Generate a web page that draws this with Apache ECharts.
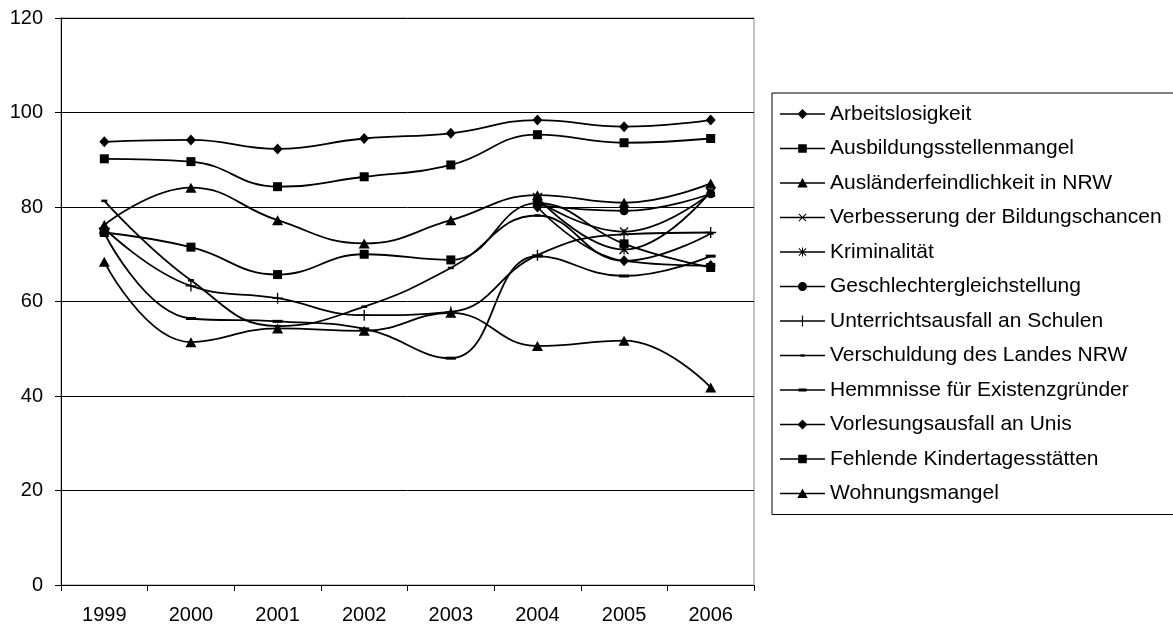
<!DOCTYPE html>
<html>
<head>
<meta charset="utf-8">
<script src="https://cdn.jsdelivr.net/npm/echarts@6/dist/echarts.min.js"></script>
<style>
html,body{margin:0;padding:0;background:#fff;}
#chart{width:1173px;height:626px;}
</style>
</head>
<body>
<div id="chart"></div>
<script>
// ---- data ----
const years = ['1999','2000','2001','2002','2003','2004','2005','2006'];
const yTicks = [0, 20, 40, 60, 80, 100, 120];

const seriesNames = [
  'Arbeitslosigkeit',
  'Ausbildungsstellenmangel',
  'Ausländerfeindlichkeit in NRW',
  'Verbesserung der Bildungschancen',
  'Kriminalität',
  'Geschlechtergleichstellung',
  'Unterrichtsausfall an Schulen',
  'Verschuldung des Landes NRW',
  'Hemmnisse für Existenzgründer',
  'Vorlesungsausfall an Unis',
  'Fehlende Kindertagesstätten',
  'Wohnungsmangel'
];

const arbeitslosigkeit = [93.8, 94.2, 92.3, 94.5, 95.6, 98.4, 97.0, 98.4];
const ausbildungsstellenmangel = [90.2, 89.6, 84.3, 86.4, 88.9, 95.3, 93.6, 94.5];
const auslaenderfeindlichkeit = [76.2, 84.1, 77.2, 72.3, 77.2, 82.5, 80.9, 85.0];
const bildungschancen = [null, null, null, null, null, 81.3, 74.8, 83.0];
const kriminalitaet = [null, null, null, null, null, 82.0, 71.0, 83.3];
const gleichstellung = [null, null, null, null, null, 80.4, 79.2, 82.8];
const unterrichtsausfall = [75.5, 63.3, 60.7, 57.1, 57.8, 69.8, 74.2, 74.6];
const verschuldung = [81.3, 64.5, 54.8, 58.9, 67.1, 78.2, 68.6, 74.4];
const hemmnisse = [74.5, 56.4, 55.8, 54.2, 48.0, 69.6, 65.4, 69.6];
const vorlesungsausfall = [null, null, null, null, null, 80.0, 68.6, 67.6];
const kindertagesstaetten = [74.6, 71.5, 65.7, 70.0, 68.8, 80.8, 72.2, 67.2];
const wohnungsmangel = [68.4, 51.4, 54.3, 53.8, 57.6, 50.6, 51.7, 41.8];

const seriesValues = [
  arbeitslosigkeit, ausbildungsstellenmangel, auslaenderfeindlichkeit,
  bildungschancen, kriminalitaet, gleichstellung, unterrichtsausfall,
  verschuldung, hemmnisse, vorlesungsausfall, kindertagesstaetten, wohnungsmangel
];

// ---- marker styles ----
const P_X = 'path://M0,1L1,0L5,4L9,0L10,1L6,5L10,9L9,10L5,6L1,10L0,9L4,5Z';
const P_AST = 'path://M0,1L1,0L5,4L9,0L10,1L6,5L10,9L9,10L5,6L1,10L0,9L4,5Z M4.4,0H5.6V10H4.4Z';
const P_PLUS = 'path://M4.4,0H5.6V4.4H10V5.6H5.6V10H4.4V5.6H0V4.4H4.4Z';

const markers = [
  {symbol: 'diamond', size: [10, 11]},
  {symbol: 'rect', size: 9},
  {symbol: 'triangle', size: [11, 10]},
  {symbol: P_X, size: 9},
  {symbol: P_AST, size: 10},
  {symbol: 'circle', size: 9},
  {symbol: P_PLUS, size: 11},
  {symbol: 'rect', size: [6, 2.5]},
  {symbol: 'rect', size: [10, 3]},
  {symbol: 'diamond', size: [10, 11]},
  {symbol: 'rect', size: 9},
  {symbol: 'triangle', size: [11, 10]}
];

// legend icons: line + marker in a 45x12 box
const LINE = 'M0,0Z M45,12Z M0,5.25H45V6.75H0Z ';
const X_SHAPE = 'M18.5,2.7L19.2,2L22.5,5.3L25.8,2L26.5,2.7L23.2,6L26.5,9.3L25.8,10L22.5,6.7L19.2,10L18.5,9.3L21.8,6Z';
const legendIcons = [
  LINE + 'M22.5,1L27.5,6L22.5,11L17.5,6Z',
  LINE + 'M18.2,1.7H26.8V10.3H18.2Z',
  LINE + 'M22.5,1L27.7,10.5L17.3,10.5Z',
  LINE + X_SHAPE,
  LINE + X_SHAPE + ' M22,1.5H23V10.5H22Z',
  LINE + 'M27,6A4.5,4.5 0 1 1 18,6A4.5,4.5 0 1 1 27,6Z',
  LINE + 'M21.9,0.5H23.1V11.5H21.9Z',
  LINE + 'M20.5,4.8H24.5V7.2H20.5Z',
  LINE + 'M18.5,4.5H26.5V7.5H18.5Z',
  LINE + 'M22.5,1L27.5,6L22.5,11L17.5,6Z',
  LINE + 'M18.2,1.7H26.8V10.3H18.2Z',
  LINE + 'M22.5,1L27.7,10.5L17.3,10.5Z'
];

const series = seriesNames.map((name, i) => ({
  name: name,
  type: 'line',
  data: seriesValues[i],
  smooth: 0.45,
  connectNulls: false,
  symbol: markers[i].symbol,
  symbolSize: markers[i].size,
  symbolKeepAspect: false,
  showAllSymbol: true,
  lineStyle: {color: '#000', width: 1.8},
  itemStyle: {color: '#000', borderWidth: 0},
  emphasis: {disabled: true},
  animation: false
}));

const chart = echarts.init(document.getElementById('chart'), null, {renderer: 'canvas'});
chart.setOption({
  backgroundColor: '#fff',
  animation: false,
  textStyle: {fontFamily: '"Liberation Sans", Arial, sans-serif', color: '#000'},
  grid: {
    left: 61, right: 419, top: 18, bottom: 41,
    show: true, borderColor: '#8a8a8a', borderWidth: 1, backgroundColor: 'transparent'
  },
  legend: {
    orient: 'vertical',
    left: 772,
    top: 93,
    padding: [10, 30, 10, 8],
    itemGap: 12.5,
    itemWidth: 45,
    itemHeight: 12,
    borderColor: '#000',
    borderWidth: 1,
    selectedMode: false,
    itemStyle: {borderWidth: 0},
    textStyle: {fontSize: 21, lineHeight: 22, color: '#000', fontFamily: '"Liberation Sans", Arial, sans-serif'},
    data: seriesNames.map((n, i) => ({name: n, icon: 'path://' + legendIcons[i]}))
  },
  xAxis: {
    type: 'category',
    data: years,
    boundaryGap: true,
    axisLine: {show: true, lineStyle: {color: '#000', width: 1}},
    axisTick: {show: true, alignWithLabel: false, interval: 0, length: 6, lineStyle: {color: '#000'}},
    axisLabel: {fontSize: 20, color: '#000', margin: 20, interval: 0},
    splitLine: {show: false}
  },
  yAxis: {
    type: 'value',
    min: yTicks[0],
    max: yTicks[yTicks.length - 1],
    interval: yTicks[1] - yTicks[0],
    axisLine: {show: true, lineStyle: {color: '#000', width: 1}},
    axisTick: {show: true, length: 6, lineStyle: {color: '#000'}},
    axisLabel: {fontSize: 20, color: '#000', margin: 18},
    splitLine: {show: true, lineStyle: {color: '#000', width: 1}}
  },
  series: series
});
</script>
</body>
</html>
